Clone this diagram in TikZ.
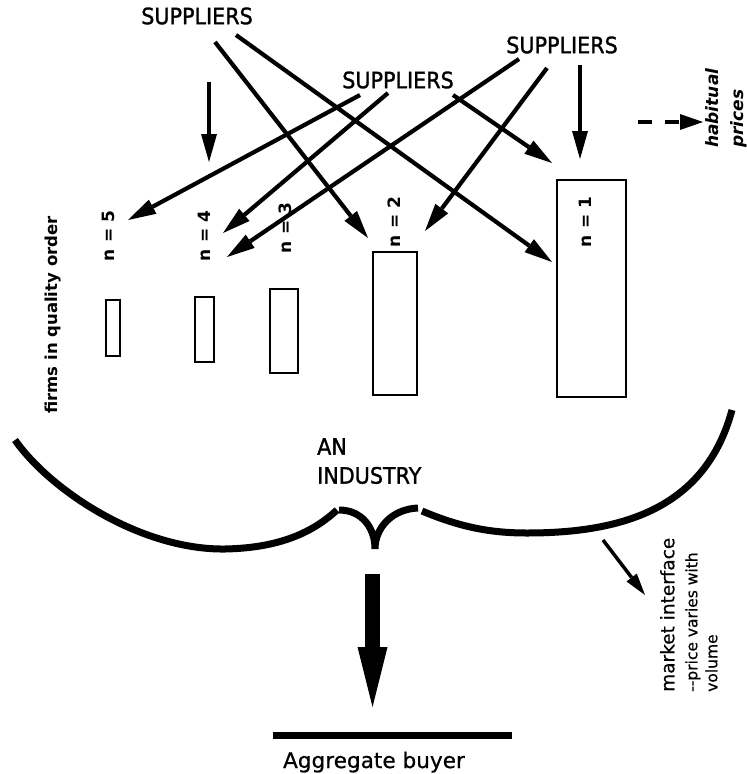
\documentclass[tikz,border=0pt]{standalone}
\usepackage{fontspec}
\setmainfont{DejaVu Sans}
\newfontfamily\capsfont[FakeStretch=0.92,FakeBold=1.4]{DejaVu Sans}
\newfontfamily\plainfont[FakeBold=0.6]{DejaVu Sans}
\usetikzlibrary{arrows.meta}
\begin{document}
\begin{tikzpicture}[x=1pt,y=-1pt,
  sup/.style={inner sep=0pt, font=\capsfont\fontsize{22.5}{29}\selectfont},
  lab/.style={inner sep=0pt, rotate=90, font=\fontsize{17}{20}\selectfont\bfseries},
  firm/.style={draw, line width=1.9pt, inner sep=0pt},
  arr/.style={line width=4.2pt, -{Triangle[length=28pt,width=16pt,line width=0pt]}},
  bracepart/.style={line width=7pt},
]
\path[use as bounding box] (0,0) rectangle (747,774);

% suppliers
\node[sup] (s1) at (197,16) {SUPPLIERS};
\node[sup] (s2) at (398,80) {SUPPLIERS};
\node[sup] (s3) at (562,45) {SUPPLIERS};

% firm labels
\node[lab] (n5) at (108,236) {n = 5};
\node[lab] (n4) at (204,236) {n = 4};
\node[lab] (n3) at (285,228) {n = 3};
\node[lab] (n2) at (394,222) {n = 2};
\node[lab] (n1) at (585,222) {n = 1};

% firm boxes
\node[firm, minimum width=14pt, minimum height=56pt] (f5) at (113,328) {};
\node[firm, minimum width=19pt, minimum height=65pt] (f4) at (204.5,329.5) {};
\node[firm, minimum width=28pt, minimum height=84pt] (f3) at (284,331) {};
\node[firm, minimum width=44pt, minimum height=143pt] (f2) at (395,323.5) {};
\node[firm, minimum width=69pt, minimum height=217pt] (f1) at (591.5,288.5) {};

\node[lab, font=\fontsize{16.5}{20}\selectfont\bfseries] (firms) at (53,315) {firms in quality order};

% arrow end points
\coordinate (a1s) at (209,82);  \coordinate (a1e) at (209,162);
\coordinate (a2s) at (215,42);  \coordinate (a2e) at (368,238);
\coordinate (a3s) at (236,35);  \coordinate (a3e) at (552,262);
\coordinate (b1s) at (360,95);  \coordinate (b1e) at (128,220);
\coordinate (b2s) at (388,93);  \coordinate (b2e) at (223,233);
\coordinate (b3s) at (453,95);  \coordinate (b3e) at (552,163);
\coordinate (c1s) at (519,59);  \coordinate (c1e) at (227,257);
\coordinate (c2s) at (547,68);  \coordinate (c2e) at (425,231);
\coordinate (c3s) at (580,65);  \coordinate (c3e) at (580,159);

\draw[arr] (a1s) -- (a1e);
\draw[arr] (a2s) -- (a2e);
\draw[arr] (a3s) -- (a3e);
\draw[arr] (b1s) -- (b1e);
\draw[arr] (b2s) -- (b2e);
\draw[arr] (b3s) -- (b3e);
\draw[arr] (c1s) -- (c1e);
\draw[arr] (c2s) -- (c2e);
\draw[arr] (c3s) -- (c3e);

% habitual prices
\coordinate (hps) at (638,122); \coordinate (hpe) at (703,122);
\draw[line width=4.2pt, dash pattern=on 14pt off 13pt,
  -{Triangle[length=23pt,width=16pt,line width=0pt]}] (hps) -- (hpe);
\node[inner sep=0pt, rotate=90, anchor=north west, align=left,
  font=\fontsize{17}{25}\selectfont\bfseries\itshape] (hp) at (705,148) {habitual\\prices};

% brace
\draw[bracepart] (15,440) .. controls (50,490) and (140,550) .. (225,549)
  .. controls (275,548) and (310,535) .. (337,510);
\draw[bracepart] (339,510) .. controls (362,510) and (375,528) .. (375,549)
  .. controls (375,528) and (392,509) .. (418,508);
\draw[bracepart] (422,511) .. controls (460,527) and (490,533) .. (527,533)
  .. controls (620,533) and (705,510) .. (732,410);

\node[inner sep=0pt, anchor=north west, align=left,
  font=\capsfont\fontsize{22.5}{29}\selectfont] (ind) at (317,438) {AN\\INDUSTRY};

% market interface
\coordinate (mis) at (603,540); \coordinate (mie) at (645,595);
\draw[line width=3.5pt, -{Triangle[length=22pt,width=13pt,line width=0pt]}] (mis) -- (mie);
\node[inner sep=0pt, rotate=90, anchor=north west, align=left,
  font=\plainfont\fontsize{15.5}{20}\selectfont] (mi) at (660,692)
  {{\fontsize{18.5}{22}\selectfont market interface}\\[3pt]
   -{}-price varies with\\ volume};

% big arrow to buyer
\coordinate (bigs) at (372.5,574); \coordinate (bige) at (372.5,707);
\draw[line width=15pt, -{Triangle[length=60pt,width=30pt,line width=0pt]}] (bigs) -- (bige);

\coordinate (barl) at (273,735); \coordinate (barr) at (512,735);
\draw[line width=7pt] (barl) -- (barr);
\node[inner sep=0pt, anchor=base, font=\plainfont\fontsize{21.6}{26}\selectfont] (buyer) at (374,768) {Aggregate buyer};
\end{tikzpicture}
\end{document}
